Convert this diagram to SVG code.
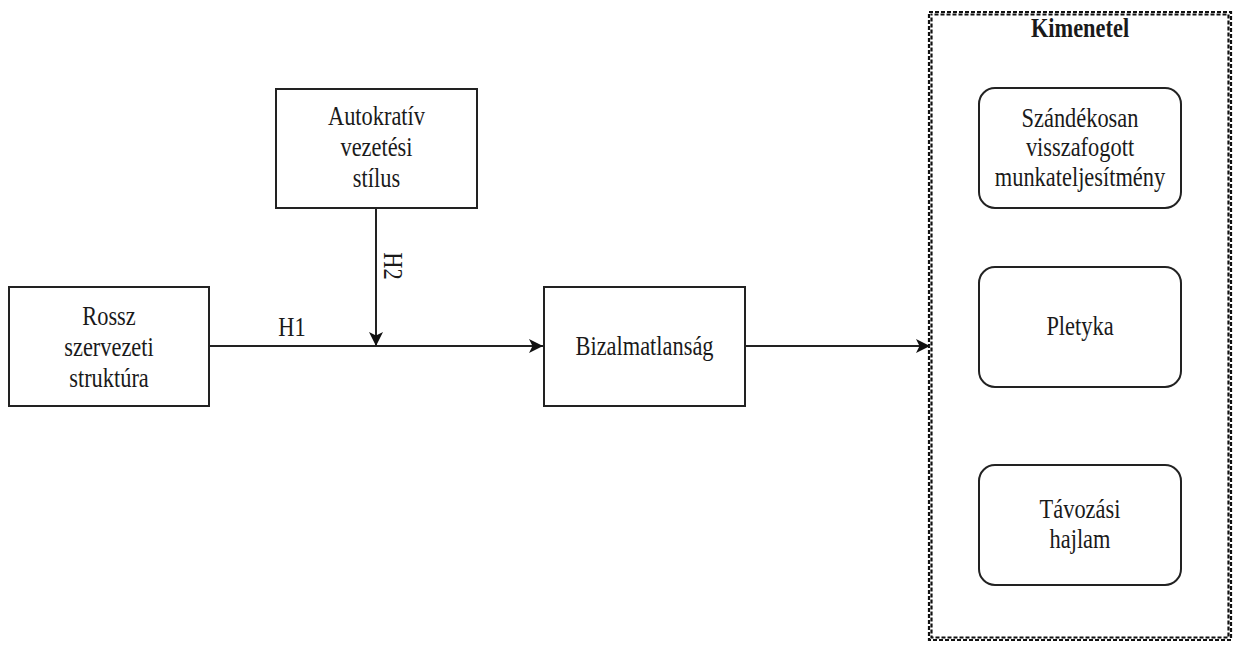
<svg xmlns="http://www.w3.org/2000/svg" width="1237" height="646" viewBox="0 0 1237 646">
<style>
.box{fill:#fff;stroke:#222;stroke-width:2}
.t{font-family:'Liberation Serif','DejaVu Serif',serif;font-size:28px;fill:#1a1a1a;text-anchor:middle}
.b{font-weight:bold}
.edge{stroke:#222;stroke-width:2;fill:none}
.dash{fill:none;stroke:#111;stroke-width:2.2;stroke-dasharray:4 2}
</style>
<defs>
<marker id="arr" markerWidth="15" markerHeight="14" refX="14" refY="7" orient="auto" markerUnits="userSpaceOnUse">
<path d="M0,0 L14,7 L0,14 L3.5,7 Z" fill="#111"/>
</marker>
</defs>
<rect width="1237" height="646" fill="#fff"/>
<g id="kimenetel">
<rect class="dash" x="929" y="12" width="302" height="628"/>
<rect class="dash" x="931.5" y="14.5" width="297" height="623" stroke-dashoffset="3"/>
<text class="t b" transform="translate(1080,37) scale(0.8,1)">Kimenetel</text>
</g>
<g id="rossz">
<rect class="box" x="9" y="287" width="200" height="119"/>
<text class="t" transform="translate(109,325) scale(0.8,1)"><tspan x="0">Rossz</tspan><tspan x="0" dy="31">szervezeti</tspan><tspan x="0" dy="31">struktúra</tspan></text>
</g>
<g id="autokrativ">
<rect class="box" x="276" y="89" width="201" height="119"/>
<text class="t" transform="translate(376.5,125) scale(0.8,1)"><tspan x="0">Autokratív</tspan><tspan x="0" dy="31">vezetési</tspan><tspan x="0" dy="31">stílus</tspan></text>
</g>
<g id="bizalmatlansag">
<rect class="box" x="544" y="287" width="201" height="119"/>
<text class="t" transform="translate(644.5,355) scale(0.8,1)">Bizalmatlanság</text>
</g>
<g id="szandekosan">
<rect class="box" x="979" y="88" width="202" height="120" rx="16" ry="16"/>
<text class="t" transform="translate(1080,127) scale(0.8,1)"><tspan x="0">Szándékosan</tspan><tspan x="0" dy="29.5">visszafogott</tspan><tspan x="0" dy="29.5">munkateljesítmény</tspan></text>
</g>
<g id="pletyka">
<rect class="box" x="979" y="267" width="202" height="120" rx="16" ry="16"/>
<text class="t" transform="translate(1080,335) scale(0.8,1)">Pletyka</text>
</g>
<g id="tavozasi">
<rect class="box" x="979" y="465" width="202" height="120" rx="16" ry="16"/>
<text class="t" transform="translate(1080,518) scale(0.8,1)"><tspan x="0">Távozási</tspan><tspan x="0" dy="30">hajlam</tspan></text>
</g>
<g id="connectors">
<line class="edge" x1="209" y1="346" x2="543" y2="346" marker-end="url(#arr)"/>
<line class="edge" x1="376" y1="208" x2="376" y2="346" marker-end="url(#arr)"/>
<line class="edge" x1="745" y1="346" x2="930" y2="346" marker-end="url(#arr)"/>
<text class="t" transform="translate(292,336) scale(0.8,1)">H1</text>
<text class="t" transform="translate(384,266) rotate(90) scale(0.8,1)">H2</text>
</g>
</svg>
